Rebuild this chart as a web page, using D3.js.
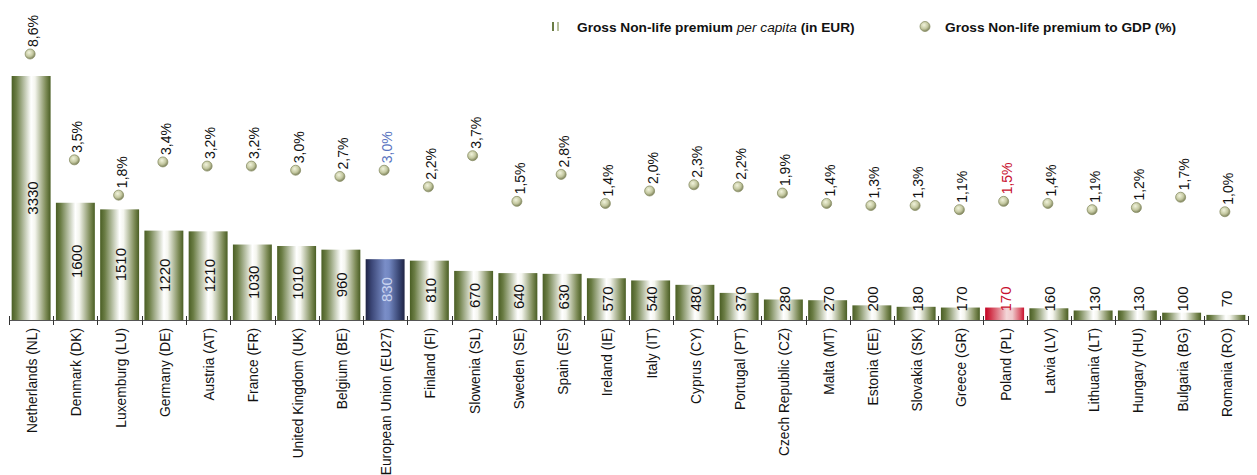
<!DOCTYPE html>
<html>
  <script src="https://d3js.org/d3.v7.min.js" type="text/JavaScript"></script>
  <style>
    body { margin: 0; background: #fff; }
    text { font-family: "Liberation Sans", Arial, sans-serif; }
  </style>
  <body>
    <svg />
    <script>
var countries = ['Netherlands (NL)', 'Denmark (DK)', 'Luxemburg (LU)', 'Germany (DE)', 'Austria (AT)',
  'France (FR)', 'United Kingdom (UK)', 'Belgium (BE)', 'European Union (EU27)', 'Finland (FI)',
  'Slowenia (SL)', 'Sweden (SE)', 'Spain (ES)', 'Ireland (IE)', 'Italy (IT)', 'Cyprus (CY)',
  'Portugal (PT)', 'Czech Republic (CZ)', 'Malta (MT)', 'Estonia (EE)', 'Slovakia (SK)',
  'Greece (GR)', 'Poland (PL)', 'Latvia (LV)', 'Lithuania (LT)', 'Hungary (HU)', 'Bulgaria (BG)', 'Romania (RO)'];
var perCapita = [3330, 1600, 1510, 1220, 1210, 1030, 1010, 960, 830, 810, 670, 640, 630, 570, 540, 480,
  370, 280, 270, 200, 180, 170, 170, 160, 130, 130, 100, 70];
var toGdp = [8.6, 3.5, 1.8, 3.4, 3.2, 3.2, 3.0, 2.7, 3.0, 2.2, 3.7, 1.5, 2.8, 1.4, 2.0, 2.3,
  2.2, 1.9, 1.4, 1.3, 1.3, 1.1, 1.5, 1.4, 1.1, 1.2, 1.7, 1.0];
var legendLabels = ['Gross Non-life premium ', 'per capita', ' (in EUR)', 'Gross Non-life premium to GDP (%)'];

var data = countries.map((c, i) => ({ name: c, eur: perCapita[i], gdp: toGdp[i] }));
var special = d => d.name.indexOf('EU27') >= 0 ? 'eu' : (d.name.indexOf('(PL)') >= 0 ? 'pl' : 'std');

var svg = d3.select('svg').attr('width', 1257).attr('height', 475);

var xScale = d3.scaleBand().domain(countries).range([9, 1248]).paddingInner(0.12).paddingOuter(0.06);
var yScale = d3.scaleLinear().domain([0, 3330]).range([320, 76]);
var gdpScale = d3.scaleLinear().domain([0, 8.6]).range([232.5, 54]);

// gradients
var defs = svg.append('defs');
function hGrad(id, stops) {
  var g = defs.append('linearGradient').attr('id', id).attr('x1', 0).attr('x2', 1).attr('y1', 0).attr('y2', 0);
  stops.forEach(s => g.append('stop').attr('offset', s[0]).attr('stop-color', s[1]));
}
hGrad('g-std', [[0, '#4a5e24'], [0.12, '#6b7d45'], [0.5, '#ffffff'], [0.6, '#f4f5ee'], [0.88, '#7d8b57'], [1, '#4a5e24']]);
hGrad('g-eu', [[0, '#1f2444'], [0.15, '#3b4676'], [0.5, '#7a8ec8'], [0.6, '#7388c2'], [0.88, '#34406c'], [1, '#1f2444']]);
hGrad('g-pl', [[0, '#c40022'], [0.15, '#d2394e'], [0.55, '#f3d6d8'], [0.7, '#efc9cc'], [0.9, '#da5a6a'], [1, '#c8102e']]);
var rg = defs.append('radialGradient').attr('id', 'g-dot').attr('cx', '40%').attr('cy', '35%').attr('r', '65%');
rg.append('stop').attr('offset', 0).attr('stop-color', '#f1f3dc');
rg.append('stop').attr('offset', 0.6).attr('stop-color', '#c4c8a0');
rg.append('stop').attr('offset', 1).attr('stop-color', '#7e835c');

// bars
svg.selectAll('rect.bar').data(data).enter().append('rect')
  .attr('class', 'bar')
  .attr('x', d => xScale(d.name))
  .attr('y', d => yScale(d.eur))
  .attr('width', xScale.bandwidth())
  .attr('height', d => yScale(0) - yScale(d.eur))
  .style('fill', d => 'url(#g-' + special(d) + ')');

// bar labels
var barLabelColor = { std: '#111', eu: '#c9d3ef', pl: '#c8102e' };
svg.selectAll('text.bl').data(data).enter().append('text')
  .attr('class', 'bl')
  .attr('transform', d => {
    var cy = Math.min((yScale(d.eur) + yScale(0)) / 2, 299);
    return `translate(${xScale(d.name) + xScale.bandwidth() / 2 + 1}, ${cy}) rotate(-90)`;
  })
  .attr('text-anchor', 'middle')
  .attr('dy', '0.36em')
  .style('font-size', '15px')
  .style('fill', d => barLabelColor[special(d)])
  .text(d => d.eur);

// axis
var axisG = svg.append('g');
axisG.append('line').attr('x1', 9).attr('x2', 1248).attr('y1', 320.5).attr('y2', 320.5)
  .style('stroke', '#555').style('stroke-width', 1);
var tickPos = countries.map(c => xScale(c) - xScale.step() * xScale.paddingInner() / 2);
tickPos.push(1248);
axisG.selectAll('line.tk').data(tickPos).enter().append('line')
  .attr('class', 'tk')
  .attr('x1', d => Math.round(d) + 0.5).attr('x2', d => Math.round(d) + 0.5)
  .attr('y1', 316).attr('y2', 325)
  .style('stroke', '#333');

svg.selectAll('text.cat').data(data).enter().append('text')
  .attr('class', 'cat')
  .attr('transform', d => `translate(${xScale(d.name) + xScale.bandwidth() / 2 + 1}, 328) rotate(-90)`)
  .attr('text-anchor', 'end')
  .attr('dy', '0.36em')
  .style('font-size', '13.8px')
  .style('fill', '#111')
  .text(d => d.name);

// GDP dots
var pctColor = { std: '#111', eu: '#5a74bf', pl: '#c8102e' };
svg.selectAll('circle.dot').data(data).enter().append('circle')
  .attr('class', 'dot')
  .attr('cx', d => xScale(d.name) + xScale.bandwidth() / 2 - 1)
  .attr('cy', d => gdpScale(d.gdp))
  .attr('r', 5)
  .style('fill', 'url(#g-dot)')
  .style('stroke', '#8c9068')
  .style('stroke-width', 0.8);

svg.selectAll('text.pct').data(data).enter().append('text')
  .attr('class', 'pct')
  .attr('transform', d => `translate(${xScale(d.name) + xScale.bandwidth() / 2 + 2}, ${gdpScale(d.gdp) - 7}) rotate(-90)`)
  .attr('text-anchor', 'start')
  .attr('dy', '0.36em')
  .style('font-size', '14px')
  .style('fill', d => pctColor[special(d)])
  .text(d => d3.format('.1f')(d.gdp).replace('.', ',') + '%');

// legend
var leg = svg.append('g').style('font-weight', 'bold').style('font-size', '13.7px');
leg.append('rect').attr('x', 552).attr('y', 22).attr('width', 2).attr('height', 9).style('fill', '#6b7d45');
leg.append('rect').attr('x', 557).attr('y', 22).attr('width', 2).attr('height', 9).style('fill', '#b8c09c');
var t1 = leg.append('text').attr('x', 577).attr('y', 31.5).style('fill', '#111');
t1.append('tspan').text(legendLabels[0]);
t1.append('tspan').style('font-style', 'italic').style('font-weight', 'normal').text(legendLabels[1]);
t1.append('tspan').text(legendLabels[2]);
leg.append('circle').attr('cx', 925).attr('cy', 26.5).attr('r', 5)
  .style('fill', 'url(#g-dot)').style('stroke', '#8c9068').style('stroke-width', 0.8);
leg.append('text').attr('x', 945).attr('y', 31.5).style('fill', '#111')
  .text(legendLabels[3]);
    </script>
  </body>
</html>
